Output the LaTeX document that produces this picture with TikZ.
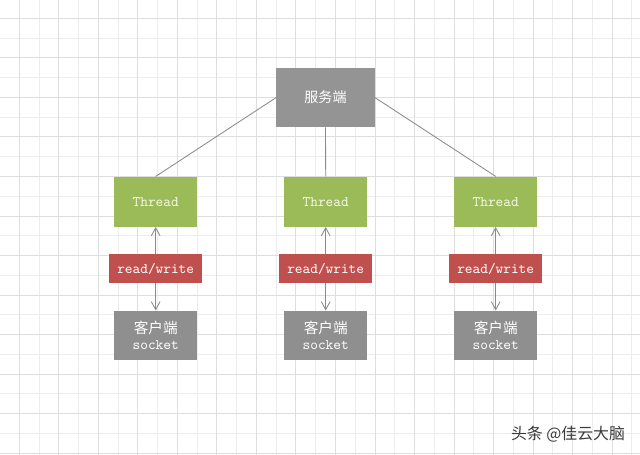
\documentclass[tikz,border=0pt]{standalone}
\usepackage{fontspec}
\newfontfamily\cjk{Noto Sans CJK SC}
\usetikzlibrary{arrows.meta}

\definecolor{servergray}{HTML}{949494}
\definecolor{clientgray}{HTML}{8F8F8F}
\definecolor{threadgreen}{HTML}{9BBB59}
\definecolor{threadtext}{HTML}{F7F7E6}
\definecolor{rwred}{HTML}{C0504D}
\definecolor{linkgray}{HTML}{8A8A8A}
\definecolor{markgray}{HTML}{3A3A3A}

\tikzset{
  box/.style={draw=none, inner sep=0pt, align=center, text=white},
  server/.style={box, fill=servergray, minimum width=2.45cm, minimum height=1.475cm,
    font=\cjk\fontsize{10}{12}\selectfont},
  thread/.style={box, fill=threadgreen, text=threadtext, minimum width=2.075cm,
    minimum height=1.25cm, font=\ttfamily\fontsize{10.4}{12}\selectfont},
  rwbox/.style={box, fill=rwred, minimum width=2.325cm, minimum height=0.725cm,
    font=\ttfamily\fontsize{10.4}{12}\selectfont},
  client/.style={box, fill=clientgray, minimum width=2.075cm, minimum height=1.225cm,
    font=\fontsize{10.4}{12}\selectfont},
  link/.style={draw=linkgray, line width=0.6pt},
  rwlink/.style={link, -{Straight Barb[length=2mm, width=2.2mm]}},
  gridminor/.style={draw=black!7, line width=0.6pt},
  gridmajor/.style={draw=black!13, line width=0.6pt},
  watermark/.style={text=markgray, font=\cjk\fontsize{11.3}{13}\selectfont}
}

\begin{document}
\begin{tikzpicture}[x=0.025cm, y=-0.025cm]
  \useasboundingbox (0,0) rectangle (640,455);
  \fill[white] (0,0) rectangle (640,455);

  % background grid
  \begin{scope}
    \clip (0,0) rectangle (640,455);
    \draw[gridminor, shift={(19.18,18.3)}, step=0.494cm] (-40,480) grid (680,-40);
    \draw[gridmajor, shift={(19.18,18.3)}, step=0.988cm] (-40,480) grid (680,-40);
  \end{scope}

  % server
  \node[server] (server) at (325.5,97.5) {服务端};

  % threads
  \node[thread] (thread1) at (155.7,201.7) {Thread};
  \node[thread] (thread2) at (325.7,201.7) {Thread};
  \node[thread] (thread3) at (495.7,201.7) {Thread};

  % read/write labels
  \node[rwbox] (rw1) at (155.7,268.7) {read/write};
  \node[rwbox] (rw2) at (325.7,268.7) {read/write};
  \node[rwbox] (rw3) at (495.7,268.7) {read/write};

  % clients
  \node[client] (client1) at (155.7,335.3) {{\cjk 客户端}\\{\ttfamily socket}};
  \node[client] (client2) at (325.7,335.3) {{\cjk 客户端}\\{\ttfamily socket}};
  \node[client] (client3) at (495.7,335.3) {{\cjk 客户端}\\{\ttfamily socket}};

  % server to threads
  \draw[link] (server.west) -- (thread1.north);
  \draw[link] (server.south) -- (thread2.north);
  \draw[link] (server.east) -- (thread3.north);

  % thread <-> client
  \draw[rwlink] (rw1) -- (thread1);
  \draw[rwlink] (rw1) -- (client1);
  \draw[rwlink] (rw2) -- (thread2);
  \draw[rwlink] (rw2) -- (client2);
  \draw[rwlink] (rw3) -- (thread3);
  \draw[rwlink] (rw3) -- (client3);

  % watermark
  \node[watermark] (mark) at (568,434) {头条 @佳云大脑};
\end{tikzpicture}
\end{document}
